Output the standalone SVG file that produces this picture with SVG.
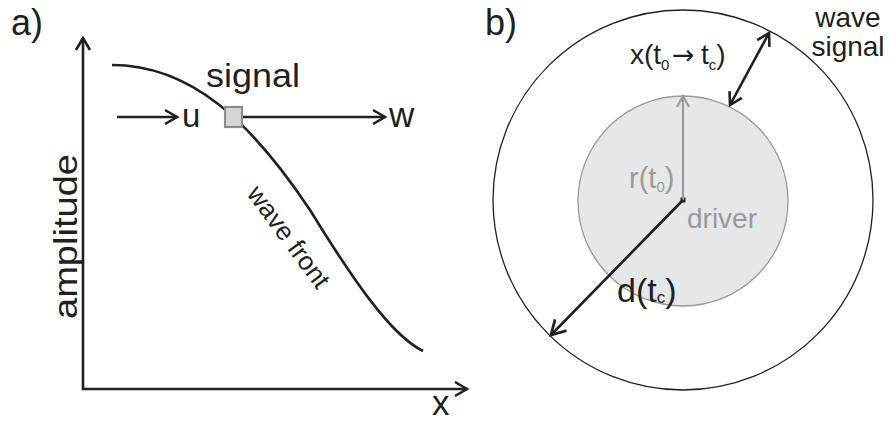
<svg xmlns="http://www.w3.org/2000/svg" width="889" height="423" viewBox="0 0 889 423">
<style>
text{font-family:"Liberation Sans",Arial,Helvetica,sans-serif;fill:#231f20}
.ln{fill:none;stroke:#231f20;stroke-width:2.6}
.gray{fill:#9a9a9a}
</style>
<defs>
<marker id="ah" markerUnits="userSpaceOnUse" orient="auto-start-reverse" overflow="visible" markerWidth="20" markerHeight="20" refX="0" refY="0">
<path d="M-12,-7 L0,0 L-12,7" fill="none" stroke="#231f20" stroke-width="2.6"/>
</marker>
<marker id="ahL" markerUnits="userSpaceOnUse" orient="auto-start-reverse" overflow="visible" markerWidth="20" markerHeight="20" refX="0" refY="0">
<path d="M-14,-8 L0,0 L-14,8" fill="none" stroke="#231f20" stroke-width="2.8"/>
</marker>
<marker id="ahG" markerUnits="userSpaceOnUse" orient="auto" overflow="visible" markerWidth="20" markerHeight="20" refX="0" refY="0">
<path d="M-11,-6 L0,0 L-11,6" fill="none" stroke="#9a9a9a" stroke-width="2.2"/>
</marker>
</defs>
<rect width="889" height="423" fill="#ffffff"/>

<g id="panel-a">
<text id="label-a" x="11" y="35" font-size="36">a)</text>
<g id="axes">
<polyline class="ln" points="83,38 83,389 467,389" stroke-width="3" marker-start="url(#ah)" marker-end="url(#ah)"/>
</g>
<text id="label-amplitude" transform="translate(77,319) rotate(-90)" font-size="34" textLength="165" lengthAdjust="spacingAndGlyphs">amplitude</text>
<text id="label-x" x="432" y="415" font-size="35">x</text>
<g id="wave-front">
<path class="ln" d="M112,65 C190,65 250,120 310,210 C350,275 390,335 423,351"/>
<text transform="translate(246,194) rotate(53.5)" font-size="26">wave front</text>
</g>
<g id="signal">
<rect x="225" y="107" width="17" height="20" fill="#d4d5d7" stroke="#8c8c8c" stroke-width="2.2"/>
<text x="206" y="87" font-size="34" textLength="94" lengthAdjust="spacingAndGlyphs">signal</text>
</g>
<text id="label-u" x="182" y="127" font-size="33">u</text>
<text id="label-w" x="389" y="127" font-size="35">w</text>
</g>

<g id="panel-b">
<text id="label-b" x="485" y="35" font-size="36">b)</text>
<g id="wave-signal">
<circle cx="683" cy="200" r="190" fill="none" stroke="#231f20" stroke-width="1.3"/>
<text x="848" y="27" font-size="28" text-anchor="middle">wave</text>
<text x="848" y="56" font-size="28" text-anchor="middle">signal</text>
</g>
<g id="driver">
<circle cx="683" cy="201" r="105" fill="#e6e7e8" stroke="#9a9a9a" stroke-width="1.3"/>
<text class="gray" x="687" y="228" font-size="28">driver</text>
</g>
<text id="label-r" class="gray" x="629" y="188" font-size="29">r(t<tspan font-size="15" dy="4">0</tspan><tspan dy="-4">)</tspan></text>
<text id="label-d" x="617" y="302" font-size="34">d(t<tspan font-size="17" dy="1">c</tspan><tspan dy="-1">)</tspan></text>
<text id="label-xt" x="630" y="64" font-size="28">x(t<tspan font-size="15" dy="6">0</tspan><tspan x="672" dy="-6" font-family="DejaVu Sans" font-size="27">→</tspan><tspan x="701">t</tspan><tspan font-size="15" dy="6">c</tspan><tspan dy="-6">)</tspan></text>
<rect x="680.5" y="197.5" width="5" height="5" fill="#231f20"/>
</g>

<g id="connectors">
<line class="ln" x1="117" y1="117" x2="177" y2="117" marker-end="url(#ah)"/>
<line class="ln" x1="243" y1="117" x2="385" y2="117" marker-end="url(#ah)"/>
<line x1="683" y1="200" x2="683" y2="96" stroke="#9a9a9a" stroke-width="2.2" marker-end="url(#ahG)"/>
<line class="ln" x1="683" y1="200" x2="551" y2="335" stroke-width="3" marker-end="url(#ahL)"/>
<line class="ln" x1="730" y1="105" x2="769" y2="33" marker-start="url(#ah)" marker-end="url(#ah)"/>
</g>
</svg>
